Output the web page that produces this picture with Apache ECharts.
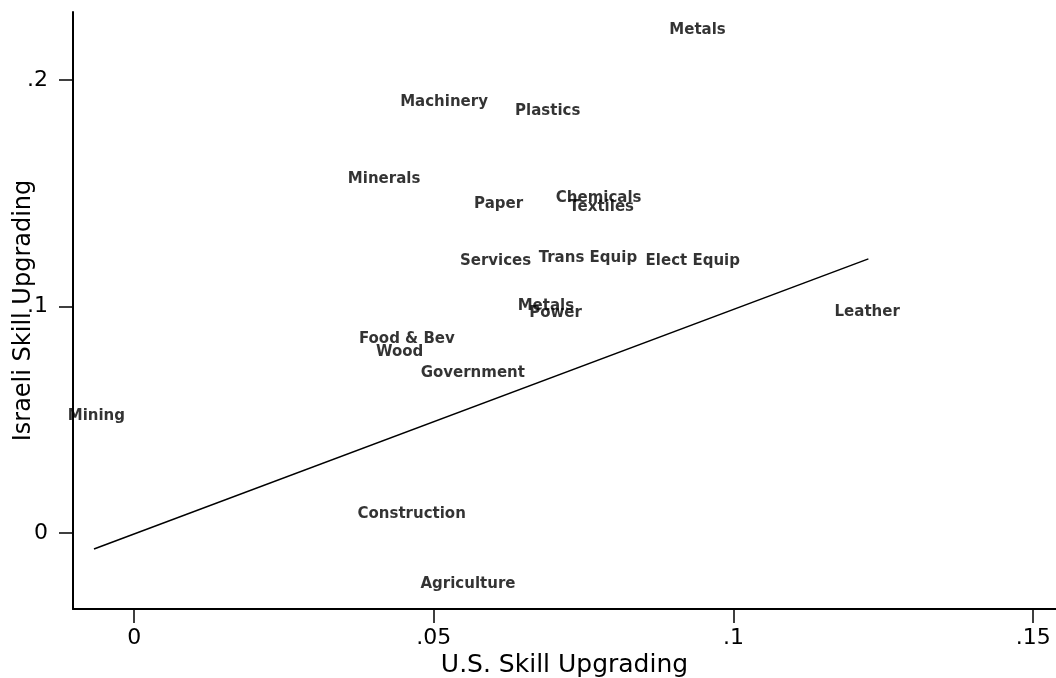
<!DOCTYPE html>
<html>
<head>
<meta charset="utf-8">
<script src="https://cdn.jsdelivr.net/npm/echarts@6/dist/echarts.min.js"></script>
<style>
  html, body { margin: 0; padding: 0; background: #fff; }
  #chart { width: 1056px; height: 678px; }
</style>
</head>
<body>
<div id="chart"></div>
<script>
  // industries, U.S. vs Israeli skill upgrading
  var industries = ['Metals', 'Machinery', 'Plastics', 'Minerals', 'Paper', 'Chemicals', 'Textiles',
    'Services', 'Trans Equip', 'Elect Equip', 'Metals', 'Power', 'Leather', 'Food & Bev', 'Wood',
    'Government', 'Mining', 'Construction', 'Agriculture']
  var usUpgrading = [0.094, 0.0517, 0.069, 0.0417, 0.0608, 0.0775, 0.078,
    0.0603, 0.0757, 0.0932, 0.0687, 0.0703, 0.1223, 0.0455, 0.0443,
    0.0565, -0.0063, 0.0463, 0.0557]
  var israeliUpgrading = [0.222, 0.190, 0.1863, 0.1563, 0.1453, 0.148, 0.144,
    0.120, 0.1214, 0.120, 0.1002, 0.0971, 0.0976, 0.0857, 0.0799,
    0.0706, 0.0517, 0.0084, -0.0225]
  // fitted line end points
  var fitX = [-0.0067, 0.1225]
  var fitY = [-0.0071, 0.121]
  var xTicks = [0, 0.05, 0.1, 0.15]
  var yTicks = [0, 0.1, 0.2]

  function fmt(v){
    if (v === 0) return '0'
    return String(v).replace(/^0/, '')
  }

  var points = []
  for (var i = 0; i < industries.length; i++) {
    points.push({ name: industries[i], value: [usUpgrading[i], israeliUpgrading[i]] })
  }
  var fitLine = []
  for (var j = 0; j < fitX.length; j++) {
    fitLine.push([fitX[j], fitY[j]])
  }

  var myChart = echarts.init(document.getElementById('chart'))
  var axisFont = { fontFamily: 'DejaVu Sans', fontSize: 22, color: '#000' }

  var option = {
    animation: false,
    backgroundColor: '#fff',
    grid: { left: 73, right: 0, top: 12, bottom: 69, containLabel: false, outerBoundsMode: 'none' },
    xAxis: {
      type: 'value',
      min: -0.0102,
      max: 0.1538,
      name: 'U.S. Skill Upgrading',
      nameLocation: 'middle',
      nameGap: 44,
      nameMoveOverlap: false,
      nameTextStyle: { fontFamily: 'DejaVu Sans', fontSize: 25, color: '#000' },
      splitLine: { show: false },
      axisLine: { onZero: false, lineStyle: { color: '#000', width: 2 } },
      axisTick: { length: 14, customValues: xTicks, lineStyle: { color: '#000', width: 1.5 } },
      axisLabel: Object.assign({ customValues: xTicks, margin: 18, formatter: fmt, hideOverlap: false }, axisFont)
    },
    yAxis: {
      type: 'value',
      min: -0.0336,
      max: 0.230,
      name: 'Israeli Skill Upgrading',
      nameLocation: 'middle',
      nameGap: 37,
      nameMoveOverlap: false,
      nameTextStyle: { fontFamily: 'DejaVu Sans', fontSize: 24, color: '#000' },
      splitLine: { show: false },
      axisLine: { onZero: false, lineStyle: { color: '#000', width: 2 } },
      axisTick: { length: 14, customValues: yTicks, lineStyle: { color: '#000', width: 1.5 } },
      axisLabel: Object.assign({ customValues: yTicks, margin: 25, formatter: fmt }, axisFont)
    },
    series: [
      {
        type: 'line',
        data: fitLine,
        symbol: 'none',
        lineStyle: { color: '#000', width: 1.5 },
        z: 2
      },
      {
        type: 'scatter',
        data: points,
        symbolSize: 0,
        itemStyle: { color: '#000' },
        label: {
          show: true,
          position: [0, 0],
          align: 'center',
          verticalAlign: 'middle',
          formatter: function(p){ return '{t|' + p.name + '}' },
          rich: {
            t: { fontFamily: 'DejaVu Sans', fontWeight: 'bold', fontSize: 15, color: '#000' }
          },
          textBorderWidth: 0
        },
        z: 3
      }
    ]
  }

  myChart.setOption(option)
</script>
</body>
</html>
